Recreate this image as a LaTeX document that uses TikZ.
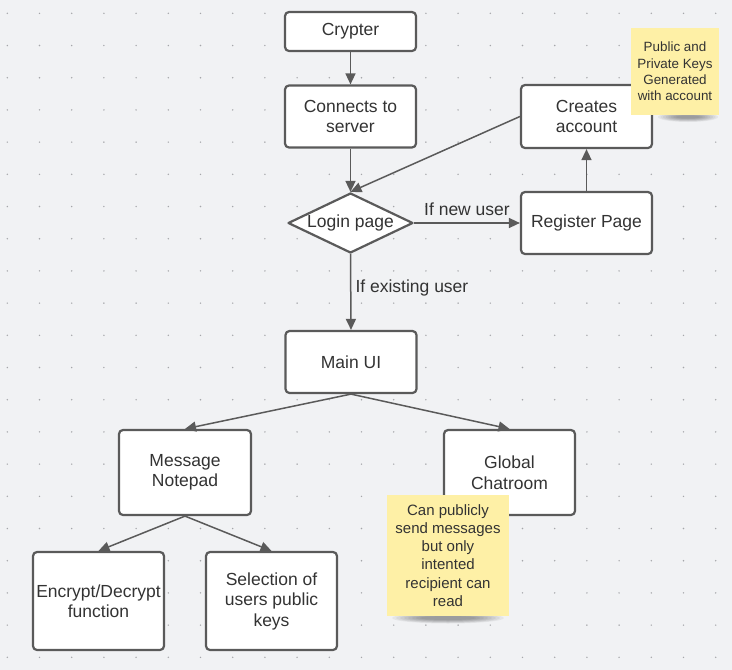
\documentclass[tikz,border=0pt]{standalone}
\usepackage{fontspec}
\setmainfont{Liberation Sans}
\usetikzlibrary{arrows.meta,shapes.geometric}
\definecolor{bg}{RGB}{241,242,244}
\definecolor{dotc}{RGB}{165,166,170}
\definecolor{edge}{RGB}{90,90,90}
\definecolor{txt}{RGB}{51,51,51}
\definecolor{sticky}{RGB}{254,240,166}
\tikzset{
  x=1pt, y=-1pt,
  boxnode/.style={draw=edge, fill=white, line width=2.2pt, rounded corners=4pt,
    align=center, inner sep=0pt, text=txt, font=\fontsize{17.5}{20.5}\selectfont},
  decnode/.style={draw=edge, fill=white, line width=2.2pt, shape=diamond, aspect=2.083,
    minimum width=125pt, minimum height=60pt, inner sep=0pt, text=txt,
    line join=round, font=\fontsize{17.5}{20.5}\selectfont},
  notenode/.style={fill=sticky, align=center, inner sep=0pt, text=txt},
  conn/.style={draw=edge, line width=1.5pt, -{Triangle[length=11pt,width=10pt]}},
  lbl/.style={text=txt, inner sep=0pt, font=\fontsize{17.5}{20.5}\selectfont},
}
\begin{document}
\begin{tikzpicture}
\fill[bg] (0,0) rectangle (732,670);
\useasboundingbox (0,0) rectangle (732,670);
\foreach \i in {0,...,22}{
  \foreach \j in {0,...,20}{
    \fill[dotc] ({7.3+32.2*\i},{13.3+32.2*\j}) circle (0.8pt);
  }
}
% shadows
\foreach \k in {0,...,7}{
  \fill[black, opacity=0.05] (688,117) ellipse ({30-2.5*\k} and {5-0.5*\k});
  \fill[black, opacity=0.05] (448,618) ellipse ({56-4*\k} and {5.5-0.5*\k});
}
% boxes
\node[boxnode, minimum width=131pt, minimum height=39pt] (crypter) at (350.5,31.5) {Crypter};
\node[boxnode, minimum width=131pt, minimum height=62pt] (connects) at (350.5,116.5) {Connects to\\server};
\node[boxnode, minimum width=131pt, minimum height=63pt] (creates) at (586.5,116.5) {Creates\\account};
\node[boxnode, minimum width=131pt, minimum height=62pt] (register) at (586.5,223) {Register Page};
\node[decnode] (login) at (350.5,223) {Login page};
\node[boxnode, minimum width=131pt, minimum height=62pt] (mainui) at (351,362) {Main UI};
\node[boxnode, minimum width=132pt, minimum height=85pt] (notepad) at (185,472.5) {Message\\Notepad};
\node[boxnode, minimum width=131pt, minimum height=85pt] (global) at (509.5,472.5) {Global\\Chatroom};
\node[boxnode, minimum width=131pt, minimum height=98pt] (encrypt) at (98.5,601) {Encrypt/Decrypt\\function};
\node[boxnode, minimum width=131pt, minimum height=98pt] (selection) at (271.5,601) {Selection of\\users public\\keys};
% sticky notes
\node[notenode, minimum width=88pt, minimum height=87pt, font=\fontsize{13.4}{16.2}\selectfont] (note1) at (675,71.5) {Public and\\Private Keys\\Generated\\with account};
\node[notenode, minimum width=122pt, minimum height=121pt, font=\fontsize{15}{18.2}\selectfont] (note2) at (448,555.5) {Can publicly\\send messages\\but only\\intented\\recipient can\\read};
% connectors
\draw[conn] (crypter.south) -- (connects.north);
\draw[conn] (connects.south) -- (login.north);
\draw[conn] (creates.west) -- (login.north);
\draw[conn] (login.east) -- node[lbl, midway, above=7pt] {If new user} (register.west);
\draw[conn] (register.north) -- (creates.south);
\draw[conn] (login.south) -- node[lbl, midway, anchor=base west, xshift=4pt] {If existing user} (mainui.north);
\draw[conn] (mainui.south) -- (notepad.north);
\draw[conn] (mainui.south) -- (global.north);
\draw[conn] (notepad.south) -- (encrypt.north);
\draw[conn] (notepad.south) -- (selection.north);
\end{tikzpicture}
\end{document}
